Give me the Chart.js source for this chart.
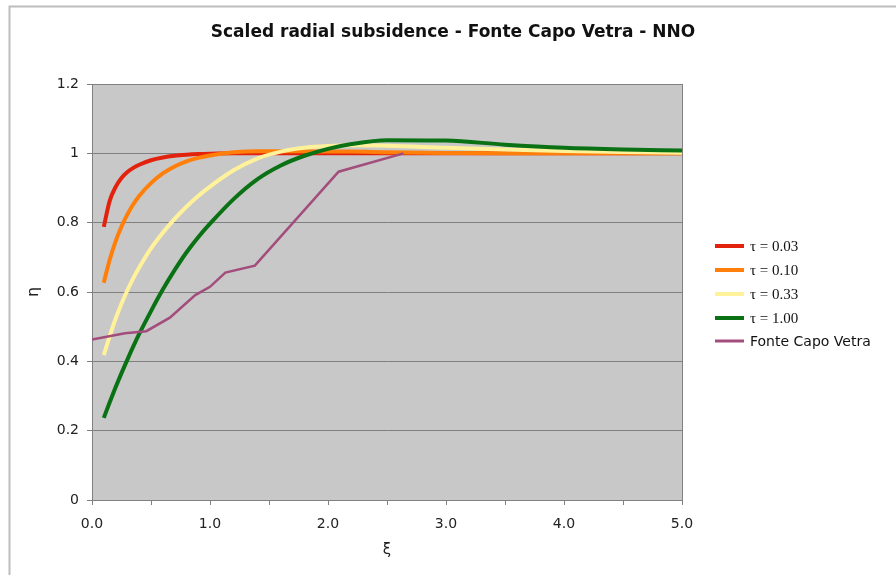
<!DOCTYPE html>
<html>
<head>
<meta charset="utf-8">
<script src="https://cdn.jsdelivr.net/npm/chart.js@4.4.0/dist/chart.umd.min.js"></script>
<style>
  html, body { margin: 0; padding: 0; background: #fff; }
  #wrap { width: 896px; height: 575px; position: relative; }
</style>
</head>
<body>
<div id="wrap"><canvas id="chart" width="896" height="575"></canvas></div>
<script>
// shared xi grid for the model curves
const xi = [0.1, 0.15, 0.2, 0.25, 0.3, 0.35, 0.4, 0.5, 0.6, 0.7, 0.8, 0.9, 1.0, 1.2, 1.4, 1.6, 1.8, 2.0, 2.2, 2.5, 3.0, 3.5, 4.0, 4.5, 5.0];

const eta003 = [0.788, 0.863, 0.903, 0.929, 0.946, 0.958, 0.967, 0.980, 0.988, 0.993, 0.996, 0.998, 0.999, 1.0, 1.0, 1.0, 1.0, 1.0, 1.0, 1.0, 1.0, 1.0, 1.0, 1.0, 1.0];
const eta010 = [0.627, 0.693, 0.746, 0.789, 0.824, 0.853, 0.877, 0.914, 0.942, 0.962, 0.977, 0.987, 0.994, 1.003, 1.006, 1.006, 1.006, 1.005, 1.005, 1.003, 1.001, 1.0, 1.0, 1.0, 1.0];
const eta033 = [0.418, 0.473, 0.523, 0.566, 0.605, 0.640, 0.671, 0.726, 0.771, 0.811, 0.846, 0.877, 0.904, 0.951, 0.985, 1.005, 1.016, 1.021, 1.023, 1.022, 1.016, 1.011, 1.007, 1.004, 1.002];
const eta100 = [0.237, 0.282, 0.325, 0.366, 0.405, 0.443, 0.479, 0.545, 0.607, 0.663, 0.714, 0.758, 0.797, 0.868, 0.925, 0.965, 0.993, 1.013, 1.027, 1.038, 1.037, 1.025, 1.016, 1.011, 1.008];

// measured profile
const fcvXi  = [0, 0.28, 0.46, 0.66, 0.875, 1.0, 1.13, 1.38, 2.09, 2.64];
const fcvEta = [0.463, 0.481, 0.487, 0.526, 0.591, 0.615, 0.656, 0.676, 0.947, 1.0];

const seriesLabels = ['\u03c4 = 0.03', '\u03c4 = 0.10', '\u03c4 = 0.33', '\u03c4 = 1.00', 'Fonte Capo Vetra'];
const seriesColors = ['#e3220e', '#ff7f0a', '#fff29a', '#0a7214', '#a24d7c'];

const xTicks = [0, 1, 2, 3, 4, 5];
const yTicks = [0, 0.2, 0.4, 0.6, 0.8, 1, 1.2];

const chartTitle = 'Scaled radial subsidence - Fonte Capo Vetra - NNO';

const pts = (xs, ys) => xs.map((x, i) => ({ x: x, y: ys[i] }));

// later series are painted over earlier ones, like the original
const curve = (i, ys) => ({
    label: seriesLabels[i], data: pts(xi, ys), borderColor: seriesColors[i], order: 5 - i,
    borderWidth: 4, pointRadius: 0, cubicInterpolationMode: 'monotone', fill: false
});

const plotBg = {
    id: 'plotBg',
    beforeDraw(c) {
        const { ctx, chartArea: a } = c;
        ctx.save();
        ctx.fillStyle = '#c8c8c8';
        ctx.fillRect(a.left, a.top, a.right - a.left, a.bottom - a.top);
        // outer frame
        ctx.strokeStyle = '#bdbdbd';
        ctx.lineWidth = 2;
        ctx.beginPath();
        ctx.moveTo(9.5, 575); ctx.lineTo(9.5, 6.5); ctx.lineTo(896, 6.5);
        ctx.stroke();
        // title
        ctx.fillStyle = '#111';
        ctx.font = 'bold 17px "DejaVu Sans"';
        ctx.textAlign = 'center';
        ctx.textBaseline = 'middle';
        ctx.fillText(chartTitle, 453, 33);
        ctx.restore();
    },
    afterDatasetsDraw(c) {
        const { ctx, chartArea: a } = c;
        ctx.save();
        ctx.strokeStyle = '#808080';
        ctx.lineWidth = 1;
        ctx.beginPath();
        ctx.moveTo(a.right + 0.5, a.top); ctx.lineTo(a.right + 0.5, a.bottom);
        ctx.stroke();
        ctx.restore();
    }
};

const sideLegend = {
    id: 'sideLegend',
    afterDraw(c) {
        const ctx = c.ctx;
        const rows = [246, 270, 294, 318, 341];
        ctx.save();
        c.data.datasets.forEach((ds, i) => {
            const y = rows[i];
            ctx.strokeStyle = ds.borderColor;
            ctx.lineWidth = i === 4 ? 3 : 4;
            ctx.beginPath();
            ctx.moveTo(715, y); ctx.lineTo(744, y);
            ctx.stroke();
            ctx.fillStyle = '#111';
            ctx.textBaseline = 'middle';
            ctx.font = i === 4 ? '14px "DejaVu Sans"' : '15px "Liberation Serif"';
            ctx.fillText(ds.label, 750, y + 1);
        });
        ctx.restore();
    }
};

new Chart(document.getElementById('chart'), {
    type: 'line',
    data: {
        datasets: [
            curve(0, eta003),
            curve(1, eta010),
            curve(2, eta033),
            curve(3, eta100),
            { label: seriesLabels[4], data: pts(fcvXi, fcvEta), borderColor: seriesColors[4], order: 0,
              borderWidth: 2.5, pointRadius: 0, tension: 0, fill: false }
        ]
    },
    options: {
        responsive: false, animation: false,
        layout: { padding: { left: 10, right: 214, top: 84, bottom: 0 } },
        plugins: {
            legend: { display: false },
            tooltip: { enabled: false },
            title: { display: false }
        },
        scales: {
            x: {
                type: 'linear', min: 0, max: 5,
                afterFit: s => { s.height = 75; },
                ticks: {
                    stepSize: 0.5, padding: 11, color: '#222',
                    font: { family: 'DejaVu Sans', size: 14 },
                    maxRotation: 0, autoSkip: false,
                    callback: v => xTicks.includes(v) ? v.toFixed(1) : ''
                },
                grid: { drawOnChartArea: false, tickLength: 5, color: '#808080' },
                border: { color: '#808080' },
                title: { display: true, text: '\u03be', color: '#222',
                         font: { family: 'DejaVu Sans', size: 15 }, padding: { top: 2, bottom: 16 } }
            },
            y: {
                min: 0, max: 1.2,
                afterFit: s => { s.width = 82; },
                afterBuildTicks: s => { s.ticks = yTicks.map(v => ({ value: v })); },
                ticks: {
                    padding: 8, color: '#222',
                    font: { family: 'DejaVu Sans', size: 14 },
                    callback: v => String(Math.round(v * 10) / 10)
                },
                grid: { color: '#808080', tickLength: 5 },
                border: { color: '#808080' },
                title: { display: true, text: '\u03b7', color: '#222',
                         font: { family: 'DejaVu Sans', size: 16 }, padding: { top: 14, bottom: 0 } }
            }
        }
    },
    plugins: [plotBg, sideLegend]
});
</script>
</body>
</html>
